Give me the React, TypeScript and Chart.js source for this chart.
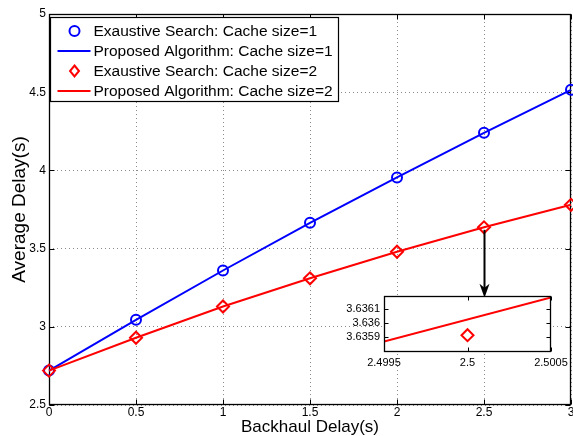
import React, { useEffect, useRef } from 'react';
import { Chart, registerables } from 'chart.js';

Chart.register(...registerables);

const FONT = "'Liberation Sans', Arial, Helvetica, sans-serif";

// ---- main chart data ----
const backhaulDelay = [0, 0.5, 1, 1.5, 2, 2.5, 3];
const exhaustiveCache1 = [2.72, 3.045, 3.36, 3.665, 3.955, 4.24, 4.515];
const proposedCache1 = [2.72, 3.045, 3.36, 3.665, 3.955, 4.24, 4.515];
const exhaustiveCache2 = [2.72, 2.93, 3.13, 3.31, 3.48, 3.636, 3.78];
const proposedCache2 = [2.72, 2.93, 3.13, 3.31, 3.48, 3.636, 3.78];
const seriesLabels = [
  'Exaustive Search: Cache size=1',
  'Proposed Algorithm: Cache size=1',
  'Exaustive Search: Cache size=2',
  'Proposed Algorithm: Cache size=2',
];
const xTicks = [0, 0.5, 1, 1.5, 2, 2.5, 3];
const xTickLabels = ['0', '0.5', '1', '1.5', '2', '2.5', '3'];
const yTicks = [2.5, 3, 3.5, 4, 4.5, 5];
const yTickLabels = ['2.5', '3', '3.5', '4', '4.5', '5'];
const xTitle = 'Backhaul Delay(s)';
const yTitle = 'Average Delay(s)';

// arrow annotation (data coordinates)
const arrowX = 2.5;
const arrowFromY = 3.62;
const arrowToY = 3.185;

// ---- inset (zoom) data ----
const insetLineX = [2.4995, 2.5005];
const insetLineY = [3.635864, 3.63618];
const insetPointX = [2.5];
const insetPointY = [3.63591];
const insetXTicks = [2.4995, 2.5, 2.5005];
const insetXTickLabels = ['2.4995', '2.5', '2.5005'];
const insetYTicks = [3.6359, 3.636, 3.6361];
const insetYTickLabels = ['3.6359', '3.636', '3.6361'];
const insetXRange = [2.4995, 2.5005];
const insetYRange = [3.63579, 3.63619];

const BLUE = '#0000ff';
const RED = '#ff0000';

function pts(xs: number[], ys: number[]) {
  return xs.map((x, i) => ({ x, y: ys[i] }));
}

function drawFrame(chart: any, tickLen: number) {
  const { ctx, chartArea: a, scales } = chart;
  ctx.save();
  ctx.strokeStyle = '#000';
  ctx.lineWidth = 1;
  const l = Math.round(a.left) + 0.5;
  const r = Math.round(a.right) - 0.5;
  const t = Math.round(a.top) + 0.5;
  const b = Math.round(a.bottom) - 0.5;
  ctx.beginPath();
  scales.x.ticks.forEach((tk: any) => {
    const px = Math.round(scales.x.getPixelForValue(tk.value)) + 0.5;
    ctx.moveTo(px, b);
    ctx.lineTo(px, b - tickLen);
    ctx.moveTo(px, t);
    ctx.lineTo(px, t + tickLen);
  });
  scales.y.ticks.forEach((tk: any) => {
    const py = Math.round(scales.y.getPixelForValue(tk.value)) + 0.5;
    ctx.moveTo(l, py);
    ctx.lineTo(l + tickLen, py);
    ctx.moveTo(r, py);
    ctx.lineTo(r - tickLen, py);
  });
  ctx.stroke();
  ctx.lineWidth = 1.3;
  ctx.strokeRect(l, t, r - l, b - t);
  ctx.restore();
}

function MainChart() {
  const ref = useRef<HTMLCanvasElement>(null);
  useEffect(() => {
    const framePlugin = {
      id: 'frame',
      beforeDatasetsDraw(chart: any) {
        drawFrame(chart, 5);
      },
    };
    const arrowPlugin = {
      id: 'arrow',
      afterDatasetsDraw(chart: any) {
        const { ctx, scales } = chart;
        const x = Math.round(scales.x.getPixelForValue(arrowX)) + 0.5;
        const y1 = scales.y.getPixelForValue(arrowFromY);
        const y2 = scales.y.getPixelForValue(arrowToY);
        ctx.save();
        ctx.strokeStyle = '#000';
        ctx.fillStyle = '#000';
        ctx.lineWidth = 2;
        ctx.beginPath();
        ctx.moveTo(x, y1);
        ctx.lineTo(x, y2 - 8);
        ctx.stroke();
        ctx.beginPath();
        ctx.moveTo(x, y2);
        ctx.lineTo(x - 5, y2 - 14);
        ctx.lineTo(x, y2 - 10);
        ctx.lineTo(x + 5, y2 - 14);
        ctx.closePath();
        ctx.fill();
        ctx.restore();
      },
    };
    const legendPlugin = {
      id: 'boxLegend',
      afterDatasetsDraw(chart: any) {
        const { ctx, chartArea: a } = chart;
        const bx = Math.round(a.left) + 1.5;
        const by = Math.round(a.top) + 3.5;
        const bw = 288;
        const bh = 84;
        ctx.save();
        ctx.fillStyle = '#fff';
        ctx.fillRect(bx, by, bw, bh);
        ctx.strokeStyle = '#000';
        ctx.lineWidth = 1.2;
        ctx.strokeRect(bx, by, bw, bh);
        ctx.font = `15.5px ${FONT}`;
        ctx.textBaseline = 'middle';
        ctx.textAlign = 'left';
        chart.data.datasets.forEach((ds: any, i: number) => {
          const cy = by + 13.5 + i * 20;
          const cx = bx + 24;
          if (ds.showLine === false) {
            ctx.lineWidth = 2;
            ctx.strokeStyle = ds.borderColor;
            ctx.beginPath();
            if (ds.pointStyle === 'circle') {
              ctx.arc(cx, cy, 5, 0, Math.PI * 2);
            } else {
              ctx.moveTo(cx, cy - 5.5);
              ctx.lineTo(cx + 4.5, cy);
              ctx.lineTo(cx, cy + 5.5);
              ctx.lineTo(cx - 4.5, cy);
              ctx.closePath();
            }
            ctx.stroke();
          } else {
            ctx.lineWidth = 2;
            ctx.strokeStyle = ds.borderColor;
            ctx.beginPath();
            ctx.moveTo(bx + 7, cy);
            ctx.lineTo(bx + 40, cy);
            ctx.stroke();
          }
          ctx.fillStyle = '#000';
          ctx.fillText(ds.label, bx + 43, cy + 1);
        });
        ctx.restore();
      },
    };

    const markerSet = (label: string, ys: number[], color: string, style: string, order: number) => ({
      label,
      data: pts(backhaulDelay, ys),
      showLine: false,
      borderColor: color,
      backgroundColor: 'rgba(0,0,0,0)',
      pointStyle: style,
      pointRadius: style === 'circle' ? 5 : 6,
      pointBorderWidth: 2,
      pointBorderColor: color,
      pointBackgroundColor: 'rgba(0,0,0,0)',
      clip: false as any,
      order,
    });
    const lineSet = (label: string, ys: number[], color: string, order: number) => ({
      label,
      data: pts(backhaulDelay, ys),
      showLine: true,
      borderColor: color,
      borderWidth: 2,
      pointRadius: 0,
      fill: false,
      tension: 0,
      clip: false as any,
      order,
    });

    const tickFont = { family: FONT, size: 12 };
    const gridColor = 'rgba(0,0,0,0.45)';

    const chart = new Chart(ref.current!, {
      type: 'line',
      data: {
        datasets: [
          markerSet(seriesLabels[0], exhaustiveCache1, BLUE, 'circle', 3),
          lineSet(seriesLabels[1], proposedCache1, BLUE, 2),
          markerSet(seriesLabels[2], exhaustiveCache2, RED, 'rectRot', 1),
          lineSet(seriesLabels[3], proposedCache2, RED, 0),
        ] as any,
      },
      options: {
        animation: false,
        responsive: false,
        devicePixelRatio: 1,
        layout: { autoPadding: false, padding: { top: 14, right: 2, bottom: 0, left: 0 } },
        plugins: { legend: { display: false }, tooltip: { enabled: false } },
        scales: {
          x: {
            type: 'linear',
            min: 0,
            max: 3,
            afterBuildTicks: (s: any) => {
              s.ticks = xTicks.map((v) => ({ value: v }));
            },
            afterFit: (s: any) => {
              s.height = 31;
              s.paddingLeft = 0;
              s.paddingRight = 0;
            },
            ticks: {
              font: tickFont,
              color: '#000',
              padding: 0,
              maxRotation: 0,
              autoSkip: false,
              callback: (v: any) => xTickLabels[xTicks.indexOf(Number(v))] ?? '',
            },
            grid: { color: gridColor, lineWidth: 1, drawTicks: false },
            border: { display: false, dash: [1, 3] },
            title: {
              display: true,
              text: xTitle,
              font: { family: FONT, size: 17, lineHeight: 1 },
              color: '#000',
              padding: { top: 0, bottom: 0 },
            },
          },
          y: {
            type: 'linear',
            min: 2.5,
            max: 5,
            afterBuildTicks: (s: any) => {
              s.ticks = yTicks.map((v) => ({ value: v }));
            },
            afterFit: (s: any) => {
              s.width = 49;
              s.paddingTop = 0;
              s.paddingBottom = 0;
            },
            ticks: {
              font: tickFont,
              color: '#000',
              padding: 3,
              autoSkip: false,
              callback: (v: any) => yTickLabels[yTicks.indexOf(Number(v))] ?? '',
            },
            grid: { color: gridColor, lineWidth: 1, drawTicks: false },
            border: { display: false, dash: [1, 3] },
            title: {
              display: true,
              text: yTitle,
              font: { family: FONT, size: 19, lineHeight: 1.2 },
              color: '#000',
              padding: { top: 8, bottom: 0 },
            },
          },
        },
      },
      plugins: [framePlugin, arrowPlugin, legendPlugin],
    } as any);
    return () => chart.destroy();
  }, []);
  return (
    <canvas
      ref={ref}
      width={573}
      height={436}
      style={{ position: 'absolute', left: 0, top: 0, width: 573, height: 436 }}
    />
  );
}

function InsetChart() {
  const ref = useRef<HTMLCanvasElement>(null);
  useEffect(() => {
    const bgPlugin = {
      id: 'insetBg',
      beforeDraw(chart: any) {
        const { ctx, chartArea: a } = chart;
        ctx.save();
        ctx.fillStyle = '#fff';
        ctx.fillRect(a.left, a.top, a.right - a.left, a.bottom - a.top);
        ctx.restore();
      },
      afterDatasetsDraw(chart: any) {
        drawFrame(chart, 4);
      },
    };
    const tickFont = { family: FONT, size: 11 };
    const chart = new Chart(ref.current!, {
      type: 'line',
      data: {
        datasets: [
          {
            label: 'Proposed Algorithm: Cache size=2',
            data: pts(insetLineX, insetLineY),
            borderColor: RED,
            borderWidth: 2,
            pointRadius: 0,
            fill: false,
            tension: 0,
          },
          {
            label: 'Exaustive Search: Cache size=2',
            data: pts(insetPointX, insetPointY),
            showLine: false,
            pointStyle: 'rectRot',
            pointRadius: 6,
            pointBorderWidth: 2,
            pointBorderColor: RED,
            pointBackgroundColor: 'rgba(0,0,0,0)',
            borderColor: RED,
          },
        ] as any,
      },
      options: {
        animation: false,
        responsive: false,
        devicePixelRatio: 1,
        layout: { autoPadding: false, padding: { top: 11, right: 22, bottom: 0, left: 0 } },
        plugins: { legend: { display: false }, tooltip: { enabled: false } },
        scales: {
          x: {
            type: 'linear',
            min: insetXRange[0],
            max: insetXRange[1],
            afterBuildTicks: (s: any) => {
              s.ticks = insetXTicks.map((v) => ({ value: v }));
            },
            afterFit: (s: any) => {
              s.height = 33;
              s.paddingLeft = 0;
              s.paddingRight = 0;
            },
            ticks: {
              font: tickFont,
              color: '#000',
              padding: 4,
              maxRotation: 0,
              autoSkip: false,
              callback: (_v: any, i: number) => insetXTickLabels[i] ?? '',
            },
            grid: { display: false, drawTicks: false },
            border: { display: false },
          },
          y: {
            type: 'linear',
            min: insetYRange[0],
            max: insetYRange[1],
            afterBuildTicks: (s: any) => {
              s.ticks = insetYTicks.map((v) => ({ value: v }));
            },
            afterFit: (s: any) => {
              s.width = 54;
              s.paddingTop = 0;
              s.paddingBottom = 0;
            },
            ticks: {
              font: tickFont,
              color: '#000',
              padding: 4,
              autoSkip: false,
              callback: (_v: any, i: number) => insetYTickLabels[i] ?? '',
            },
            grid: { display: false, drawTicks: false },
            border: { display: false },
          },
        },
      },
      plugins: [bgPlugin],
    } as any);
    return () => chart.destroy();
  }, []);
  return (
    <canvas
      ref={ref}
      width={243}
      height={100}
      style={{ position: 'absolute', left: 330, top: 285, width: 243, height: 100 }}
    />
  );
}

export default function App() {
  useEffect(() => {
    document.body.style.margin = '0';
  }, []);
  return (
    <div style={{ position: 'relative', width: 573, height: 436, background: '#fff', overflow: 'hidden' }}>
      <MainChart />
      <InsetChart />
    </div>
  );
}
